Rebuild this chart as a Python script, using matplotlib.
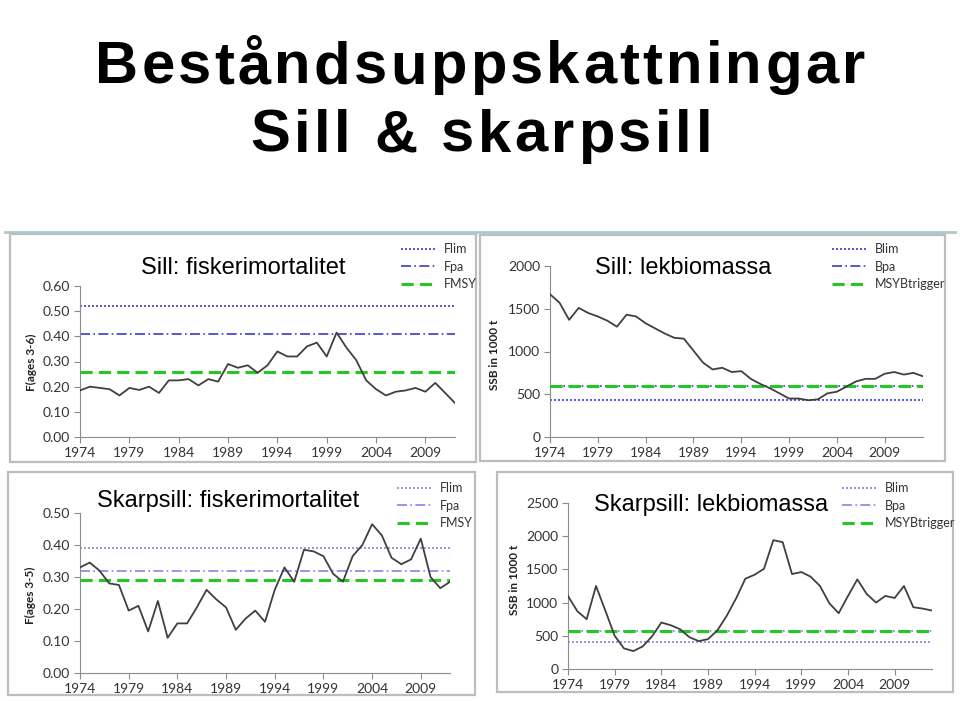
import matplotlib
matplotlib.use('Agg')
import matplotlib.pyplot as plt
from matplotlib.lines import Line2D
from matplotlib.patches import Rectangle

W, H = 960, 701

# --- data ------------------------------------------------------------------
years_her = list(range(1974, 2013))
f_her = [0.185, 0.20, 0.195, 0.19, 0.165, 0.195, 0.187, 0.20, 0.175, 0.225,
         0.225, 0.23, 0.205, 0.23, 0.22, 0.29, 0.275, 0.285, 0.255, 0.285,
         0.34, 0.32, 0.32, 0.36, 0.375, 0.32, 0.415, 0.355, 0.305, 0.225,
         0.19, 0.165, 0.18, 0.185, 0.195, 0.18, 0.215, 0.175, 0.135]
her_flim, her_fpa, her_fmsy = 0.52, 0.41, 0.26

years_her_ssb = list(range(1974, 2014))
ssb_her = [1670, 1570, 1370, 1510, 1450, 1410, 1360, 1290, 1430, 1410,
           1330, 1270, 1210, 1160, 1150, 1010, 870, 790, 810, 760,
           770, 680, 620, 570, 510, 450, 450, 430, 440, 510,
           530, 590, 650, 680, 680, 740, 760, 730, 750, 710]
her_blim, her_bpa, her_btrig = 430, 600, 600

years_spr = list(range(1974, 2013))
f_spr = [0.33, 0.345, 0.32, 0.28, 0.275, 0.195, 0.21, 0.13, 0.225, 0.11,
         0.155, 0.155, 0.205, 0.26, 0.23, 0.205, 0.135, 0.17, 0.195, 0.16,
         0.26, 0.33, 0.285, 0.385, 0.38, 0.365, 0.31, 0.285, 0.365, 0.40,
         0.465, 0.43, 0.36, 0.34, 0.355, 0.42, 0.30, 0.265, 0.285]
spr_flim, spr_fpa, spr_fmsy = 0.39, 0.32, 0.29

years_spr_ssb = list(range(1974, 2014))
ssb_spr = [1100, 870, 750, 1250, 880, 500, 310, 270, 340, 490,
           700, 660, 600, 480, 420, 450, 580, 800, 1060, 1360,
           1420, 1510, 1940, 1910, 1430, 1460, 1390, 1250, 990, 840,
           1100, 1350, 1130, 1000, 1100, 1070, 1250, 930, 910, 880]
spr_blim, spr_bpa, spr_btrig = 410, 570, 570

xtick_years = [1974, 1979, 1984, 1989, 1994, 1999, 2004, 2009]

fig = plt.figure(figsize=(W / 100, H / 100), dpi=100)
fig.patch.set_facecolor('white')


def px_axes(l, r, t, b):
    return fig.add_axes([l / W, 1 - b / H, (r - l) / W, (b - t) / H])


def spaced_text(s, x_left, x_right, ybase, **kw):
    # letter-spaced line: keep natural glyph advances, spread the rest evenly
    r = fig.canvas.get_renderer()

    def width(txt):
        t = fig.text(0, 0, txt, **kw)
        w = t.get_window_extent(r).width
        t.remove()
        return w
    starts = [0.0]
    for i in range(1, len(s)):
        if s[i] == ' ':
            starts.append(None)
            continue
        starts.append(width(s[:i + 1].replace(' ', '\u00a0')) - width(s[i]))
    natural = width(s.replace(' ', '\u00a0'))
    spacing = ((x_right - x_left) - natural) / (len(s) - 1)
    for i, ch in enumerate(s):
        if ch == ' ':
            continue
        x = x_left + starts[i] + spacing * i
        fig.text(x / W, 1 - ybase / H, ch, ha='left', va='baseline', **kw)


def panel(box, ax_px, years, vals, refs, ylim, yticks, yfmt, ylabel, ylab_xy,
          title, title_xy, leg_xy, blue):
    x0, y0, x1, y1 = box
    fig.add_artist(Rectangle((x0 / W, 1 - y1 / H), (x1 - x0) / W, (y1 - y0) / H,
                             transform=fig.transFigure, fill=False,
                             edgecolor='#bdbdbd', linewidth=1.6))
    ax = px_axes(*ax_px)
    ax.plot(years, vals, color='#404040', linewidth=1.3, zorder=4)
    names, levels = refs
    h1 = ax.axhline(levels[0], color=blue, linestyle=(0, (1.2, 1.2)), linewidth=1.2)
    h2 = ax.axhline(levels[1], color=blue, linestyle=(0, (6, 2, 1, 2)), linewidth=1.2)
    h3 = ax.axhline(levels[2], color='#22c922', linestyle=(0, (4, 2)), linewidth=2.2, zorder=3)
    ax.set_xlim(years[0], years[-1])
    ax.set_ylim(*ylim)
    ax.set_yticks(yticks)
    ax.set_yticklabels([yfmt.format(v) for v in yticks])
    ax.set_xticks(xtick_years)
    ax.set_xticklabels([str(y) for y in xtick_years])
    for s in ['top', 'right']:
        ax.spines[s].set_visible(False)
    for s in ['left', 'bottom']:
        ax.spines[s].set_color('#8c8c8c')
    ax.tick_params(colors='#8c8c8c', labelcolor='#333333', labelsize=10,
                   length=4, width=0.8, pad=3)
    for lab in ax.get_xticklabels() + ax.get_yticklabels():
        lab.set_fontfamily('Lato')
    fig.text(ylab_xy[0] / W, 1 - ylab_xy[1] / H, ylabel, rotation=90,
             ha='center', va='center', fontsize=8.5, fontweight='bold',
             family='Lato', color='#222222')
    fig.text(title_xy[0] / W, 1 - title_xy[1] / H, title, ha='center',
             va='center', fontsize=17, family='Liberation Sans', color='black')
    leg = fig.legend([h1, h2, h3], names, loc='upper left',
                     bbox_to_anchor=(leg_xy[0] / W, 1 - leg_xy[1] / H),
                     frameon=False, handlelength=2.9, handletextpad=0.5,
                     labelspacing=0.45, borderpad=0, borderaxespad=0,
                     prop={'family': 'Lato', 'size': 9})
    for t in leg.get_texts():
        t.set_color('#333333')
    return ax


panel((10, 234, 476, 462), (80, 455, 286, 437), years_her, f_her,
      (['Flim', 'Fpa', 'FMSY'], [her_flim, her_fpa, her_fmsy]),
      (0, 0.6), [0, 0.1, 0.2, 0.3, 0.4, 0.5, 0.6], '{:.2f}', 'F(ages 3-6)',
      (31, 362), 'Sill: fiskerimortalitet', (243, 268), (401, 243), '#3b3bcf')

panel((480, 235, 945, 461), (550, 923, 266, 437), years_her_ssb, ssb_her,
      (['Blim', 'Bpa', 'MSYBtrigger'], [her_blim, her_bpa, her_btrig]),
      (0, 2000), [0, 500, 1000, 1500, 2000], '{:d}', 'SSB in 1000 t',
      (495, 355), 'Sill: lekbiomassa', (683, 268), (832, 243), '#3b3bcf')

panel((8, 472, 475, 695), (80, 450, 513, 673), years_spr, f_spr,
      (['Flim', 'Fpa', 'FMSY'], [spr_flim, spr_fpa, spr_fmsy]),
      (0, 0.5), [0, 0.1, 0.2, 0.3, 0.4, 0.5], '{:.2f}', 'F(ages 3-5)',
      (30, 595), 'Skarpsill: fiskerimortalitet', (228, 501), (397, 482), '#8585e6')

panel((497, 472, 953, 692), (568, 932, 503, 669), years_spr_ssb, ssb_spr,
      (['Blim', 'Bpa', 'MSYBtrigger'], [spr_blim, spr_bpa, spr_btrig]),
      (0, 2500), [0, 500, 1000, 1500, 2000, 2500], '{:d}', 'SSB in 1000 t',
      (514, 580), 'Skarpsill: lekbiomassa', (711, 505), (842, 482), '#8585e6')

# slide separator line
fig.add_artist(Line2D([5 / W, 955 / W], [1 - 231.5 / H, 1 - 231.5 / H],
                      transform=fig.transFigure, color='#a9c9c9', linewidth=2))

# slide title, letter spaced
title_kw = dict(fontsize=43, fontweight='bold', family='Liberation Sans',
                color='black')
spaced_text('Beståndsuppskattningar', 95, 865, 83, **title_kw)
spaced_text('Sill & skarpsill', 250, 712, 152, **title_kw)

fig.savefig('out.png', dpi=100, facecolor='white')
